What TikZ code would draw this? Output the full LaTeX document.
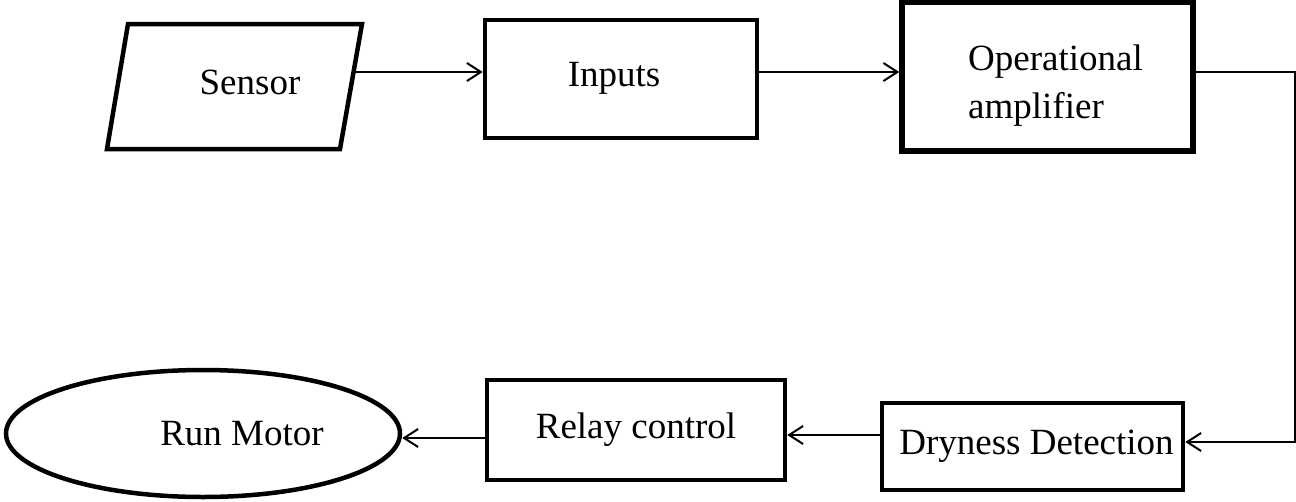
\documentclass[tikz,border=0pt]{standalone}
\usepackage{fontspec}
\setmainfont{Liberation Serif}
\usetikzlibrary{shapes.geometric,arrows.meta}
\begin{document}
\begin{tikzpicture}[x=1pt,y=-1pt,
  box/.style={draw,line width=4.5pt,rectangle,inner sep=0pt},
  arr/.style={line width=2pt,-{Straight Barb[length=14pt,width=18pt,line width=2pt]}},
  font=\fontsize{37}{48}\selectfont]
\useasboundingbox (0,0) rectangle (1296,501);
% sensor parallelogram
\coordinate (s1) at (128,24);
\coordinate (s2) at (362,24);
\coordinate (s3) at (340,149);
\coordinate (s4) at (107,149);
\draw[line width=4.5pt,line join=miter] (s1) -- (s2) -- (s3) -- (s4) -- cycle;
\node (sensor) at (250,82) {Sensor};
\coordinate (sout) at (353.5,72);
\node[box,minimum width=272pt,minimum height=118pt,
  label={[xshift=-7pt,yshift=1pt]center:Inputs}] (inputs) at (621,79) {};
\node[box,line width=5.5pt,minimum width=291pt,minimum height=149pt,
  label={[align=left,xshift=8pt,yshift=-9pt]center:Operational\\amplifier}] (opamp) at (1047.5,76.5) {};
\node[box,minimum width=301pt,minimum height=87pt,
  label={[xshift=4pt]center:Dryness Detection}] (dry) at (1032.5,446.5) {};
\node[box,minimum width=298pt,minimum height=100pt] (relay) at (636,430) {Relay control};
\node[draw,line width=4.5pt,ellipse,minimum width=394pt,minimum height=127pt,
  label={[xshift=39pt]center:Run Motor}] (motor) at (203,433.5) {};
\coordinate (turn) at (1295,442);
\draw[arr] (sout) -- (sout -| inputs.west);
\draw[arr] ([yshift=7pt]inputs.east) -- ([yshift=7pt]inputs.east -| opamp.west);
\draw[arr] ([yshift=4.5pt]opamp.east) -| (turn) -- (turn -| dry.east);
\draw[arr] ([yshift=11.5pt]dry.west) -- ([yshift=11.5pt]dry.west -| relay.east);
\draw[arr] ([yshift=-8pt]relay.west) -- ([yshift=-8pt]relay.west -| motor.east);
\end{tikzpicture}
\end{document}
